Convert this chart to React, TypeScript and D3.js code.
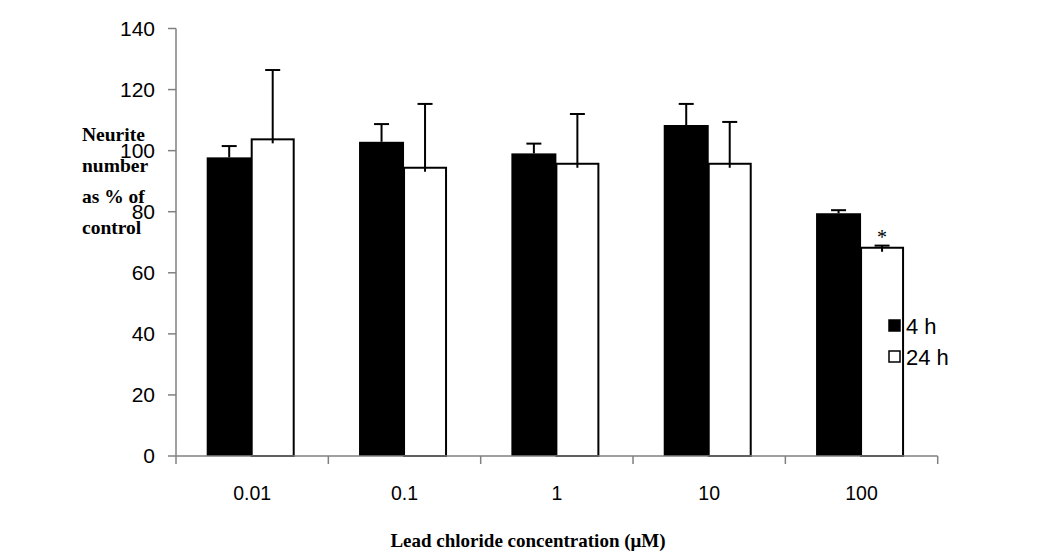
import React from "react";
import * as d3 from "d3";

const categories = ["0.01", "0.1", "1", "10", "100"];
const series4h = [97.8, 102.9, 99.1, 108.4, 79.5];
const err4h = [3.7, 5.8, 3.2, 6.9, 1.0];
const series24h = [103.7, 94.4, 95.7, 95.7, 68.2];
const err24h = [22.7, 20.9, 16.3, 13.7, 0.7];
const yTicks = [0, 20, 40, 60, 80, 100, 120, 140];
const seriesNames = ["4 h", "24 h"];
const yLabelLines = ["Neurite", "number", "as % of", "control"];

export default function App() {
  const W = 1045, H = 553;
  const x0 = 176, x1 = 937.7;
  const y = d3.scaleLinear().domain([0, 140]).range([456, 28.5]);
  const x = d3.scaleBand().domain(categories).range([x0, x1]).paddingInner(0).paddingOuter(0);
  const bw = x.bandwidth();
  const barOff = 30.7;
  const barW = 44;
  const axisColor = "#808080";
  return (
    <svg width={W} height={H} style={{ position: "absolute", left: 0, top: 0, background: "#fff" }}>
      {categories.map((c, i) => {
        const bx = (x(c) as number) + barOff;
        const wx = bx + barW + 1;
        return (
          <g key={c}>
            <rect x={bx} y={y(series4h[i])} width={barW + 1} height={y(0) - y(series4h[i])} fill="#000" />
            <rect x={wx} y={y(series24h[i])} width={barW - 2} height={y(0) - y(series24h[i])} fill="#fff" stroke="#000" strokeWidth={2} />
            <line x1={bx + (barW + 1) / 2} x2={bx + (barW + 1) / 2} y1={y(series4h[i])} y2={y(series4h[i] + err4h[i])} stroke="#000" strokeWidth={2} />
            <line x1={bx + (barW + 1) / 2 - 7.5} x2={bx + (barW + 1) / 2 + 7.5} y1={y(series4h[i] + err4h[i])} y2={y(series4h[i] + err4h[i])} stroke="#000" strokeWidth={2} />
            <line x1={wx + (barW - 2) / 2} x2={wx + (barW - 2) / 2} y1={y(series24h[i]) + 4} y2={y(series24h[i] + err24h[i])} stroke="#000" strokeWidth={2} />
            <line x1={wx + (barW - 2) / 2 - 7.5} x2={wx + (barW - 2) / 2 + 7.5} y1={y(series24h[i] + err24h[i])} y2={y(series24h[i] + err24h[i])} stroke="#000" strokeWidth={2} />
          </g>
        );
      })}
      <text x={x("100")! + barOff + barW + 1 + (barW - 2) / 2} y={y(series24h[4]) - 4} textAnchor="middle" fontFamily="Liberation Serif, Times New Roman, serif" fontSize={20}>*</text>
      <line x1={x0} x2={x0} y1={y(140)} y2={y(0)} stroke={axisColor} strokeWidth={1.5} />
      {yTicks.map((t) => (
        <g key={t}>
          <line x1={x0 - 8} x2={x0} y1={y(t)} y2={y(t)} stroke={axisColor} strokeWidth={1.5} />
          <text x={x0 - 21} y={y(t)} dy="0.35em" textAnchor="end" fontFamily="Liberation Sans, Arial, sans-serif" fontSize={21} fill="#000">{t}</text>
        </g>
      ))}
      <line x1={x0} x2={x1} y1={y(0)} y2={y(0)} stroke={axisColor} strokeWidth={1.5} />
      {categories.map((c) => (
        <line key={"t" + c} x1={(x(c) as number) + bw} x2={(x(c) as number) + bw} y1={y(0)} y2={y(0) + 8} stroke={axisColor} strokeWidth={1.5} />
      ))}
      <line x1={x0} x2={x0} y1={y(0)} y2={y(0) + 8} stroke={axisColor} strokeWidth={1.5} />
      {categories.map((c) => (
        <text key={"l" + c} x={(x(c) as number) + bw / 2} y={500} textAnchor="middle" fontFamily="Liberation Sans, Arial, sans-serif" fontSize={19.5} fill="#000">{c}</text>
      ))}
      <text x={528} y={547} textAnchor="middle" fontFamily="Liberation Serif, Times New Roman, serif" fontWeight="bold" fontSize={19} fill="#000">Lead chloride concentration (μM)</text>
      {yLabelLines.map((l, i) => (
        <text key={l} x={82} y={141 + i * 31} fontFamily="Liberation Serif, Times New Roman, serif" fontWeight="bold" fontSize={19.5} fill="#000">{l}</text>
      ))}
      {seriesNames.map((s, i) => (
        <g key={s}>
          <rect x={889} y={320 + i * 31} width={11} height={11} fill={i === 0 ? "#000" : "#fff"} stroke="#000" strokeWidth={1.5} />
          <text x={906} y={326 + i * 31} dy="0.35em" fontFamily="Liberation Sans, Arial, sans-serif" fontSize={22} fill="#000">{s}</text>
        </g>
      ))}
    </svg>
  );
}
